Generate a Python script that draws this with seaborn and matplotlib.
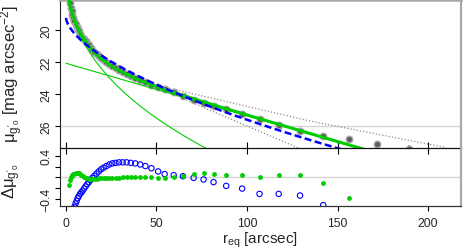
import numpy as np
import pandas as pd
import matplotlib
matplotlib.use('Agg')
import matplotlib.pyplot as plt
import seaborn as sns

# Surface brightness profile
r_prof = [1.6, 2.1, 2.6, 3.1, 3.6, 4.1, 4.7, 5.3, 5.9, 6.5, 7.1, 7.8, 8.5, 9.2, 10.0,
          10.8, 11.7, 12.6, 13.6, 14.6, 15.7, 16.9, 18.1, 19.4, 20.8, 22.3, 23.9, 25.6,
          27.4, 29.3, 31.3, 33.5, 35.8, 38.3, 41.0, 43.9, 47.2, 50.9, 54.5, 59.5, 64.6,
          70.5, 76.0, 81.5, 88.5, 97.3, 106.9, 117.5, 129.3, 142.1, 156.5, 172.0, 189.5]
mu_prof = [17.94, 18.31, 18.60, 18.84, 19.05, 19.24, 19.44, 19.63, 19.80, 19.95, 20.08,
           20.23, 20.35, 20.47, 20.59, 20.71, 20.84, 20.96, 21.10, 21.22, 21.36, 21.50,
           21.64, 21.76, 21.89, 22.03, 22.15, 22.27, 22.40, 22.52, 22.65, 22.77, 22.89,
           23.02, 23.14, 23.28, 23.42, 23.55, 23.69, 23.89, 24.11, 24.36, 24.57, 24.75,
           24.96, 25.27, 25.54, 25.94, 26.34, 26.60, 26.80, 27.10, 27.43]
mu_err = [0.08] * 30 + [0.05] * 15 + [0.03, 0.03, 0.04, 0.04, 0.06, 0.10, 0.15, 0.25]

# residuals: two-component fit (green) and single Sersic fit (blue)
res_two = [-0.14, -0.05, 0.0, 0.03, 0.05, 0.06, 0.07, 0.08, 0.09, 0.09, 0.08, 0.07, 0.05,
           0.03, 0.01, -0.01, -0.02, -0.03, -0.04, -0.04, -0.03, -0.03, -0.02, -0.02,
           -0.02, -0.01, -0.01, -0.01, -0.01, -0.01, 0.0, 0.0, 0.0, 0.01, 0.0, 0.01, 0.01,
           -0.01, -0.02, 0.0, 0.03, 0.07, 0.08, 0.07, 0.04, 0.05, 0.0, 0.04, 0.05, -0.11,
           -0.39, -0.60, -0.90]
res_one = [-1.30, -1.15, -1.00, -0.90, -0.78, -0.66, -0.55, -0.49, -0.44, -0.39, -0.35,
           -0.31, -0.28, -0.25, -0.21, -0.17, -0.13, -0.09, -0.05, -0.01, 0.03, 0.07, 0.11,
           0.15, 0.18, 0.21, 0.24, 0.26, 0.27, 0.28, 0.28, 0.28, 0.27, 0.26, 0.24, 0.21,
           0.17, 0.11, 0.06, 0.04, 0.02, -0.01, -0.04, -0.09, -0.16, -0.21, -0.31, -0.31,
           -0.34, -0.52, -0.90, -1.20, -1.60]

# dotted envelope lines
r_up = [45, 134, 210]
mu_up = [23.32, 25.67, 27.35]
r_lo = [45, 90, 128]
mu_lo = [23.32, 25.52, 27.35]

# fitted model parameters
bulge_mu0, bulge_b, bulge_n = 15.61, 2.07, 2.5
disk_mu0, disk_k = 22.08, 0.0328
single_mu0, single_b, single_n = 19.22, 0.392, 1.65
sky_level = 26

green = '#00CD00'
blue = '#0000FF'

sns.set_theme(style='white')
plt.rcParams['font.family'] = ['Liberation Sans', 'DejaVu Sans']
plt.rcParams['mathtext.fontset'] = 'custom'
plt.rcParams['mathtext.rm'] = 'Liberation Sans'
plt.rcParams['mathtext.it'] = 'Liberation Sans'
plt.rcParams['mathtext.default'] = 'regular'

rg = np.linspace(0.01, 225, 800)
mu_b = bulge_mu0 + bulge_b * rg ** (1 / bulge_n)
mu_d = disk_mu0 + disk_k * rg
mu_tot = -2.5 * np.log10(10 ** (-0.4 * mu_b) + 10 ** (-0.4 * mu_d))
mu_one = single_mu0 + single_b * rg ** (1 / single_n)
models = pd.DataFrame({'r': rg, 'bulge': mu_b, 'disk': mu_d, 'total': mu_tot, 'single': mu_one})
prof = pd.DataFrame({'r': r_prof, 'mu': mu_prof, 'err': mu_err, 'res2': res_two, 'res1': res_one})

fig = plt.figure(figsize=(4.63, 2.53), dpi=100)
ax1 = fig.add_axes([60/463, 1-149/253, 401/463, 148/253])
ax2 = fig.add_axes([60/463, 1-207/253, 401/463, 58/253])

# top panel
ax1.axhline(sky_level, color='#d4d4d4', lw=1.0, zorder=1)
ax1.plot(r_up, mu_up, color='#8c8c8c', lw=0.9, ls=(0, (1, 1.6)), zorder=2)
ax1.plot(r_lo, mu_lo, color='#8c8c8c', lw=0.9, ls=(0, (1, 1.6)), zorder=2)
ax1.errorbar(prof['r'], prof['mu'], yerr=prof['err'], fmt='none', ecolor='#9a9a9a',
             elinewidth=1.4, zorder=3)
sns.scatterplot(data=prof, x='r', y='mu', ax=ax1, color='#5c5c5c', s=22,
                edgecolor='#a8a8a8', linewidth=1.0, zorder=4)
sns.lineplot(data=models, x='r', y='bulge', ax=ax1, color=green, lw=0.8, zorder=5)
sns.lineplot(data=models, x='r', y='disk', ax=ax1, color=green, lw=0.8, zorder=5)
sns.lineplot(data=models, x='r', y='total', ax=ax1, color=green, lw=2.2, zorder=6)
sns.lineplot(data=models, x='r', y='single', ax=ax1, color=blue, lw=1.8, zorder=7,
             dashes=False, linestyle=(0, (2.8, 1.4)))

ax1.set_xlim(-3.3, 218.2)
ax1.set_ylim(27.375, 18.125)
ax1.set_yticks([20, 22, 24, 26])
ax1.set_xticks([0, 50, 100, 150, 200])
ax1.set_xticklabels([])
ax1.set_xlabel('')
ax1.set_ylabel('')
ax1.tick_params(axis='x', direction='inout', length=8.5, width=0.8, color='black', bottom=True)
ax1.tick_params(axis='y', direction='out', length=3.6, width=0.8, color='black', left=True,
                labelsize=8.8, labelrotation=90, pad=2)
for t in ax1.get_yticklabels():
    t.set_va('center')

# bottom panel
ax2.axhline(0, color='#d4d4d4', lw=1.0, zorder=1)
sns.scatterplot(data=prof, x='r', y='res1', ax=ax2, facecolor='none', edgecolor=blue,
                s=15, linewidth=0.8, zorder=3)
sns.scatterplot(data=prof, x='r', y='res2', ax=ax2, color=green, s=12, linewidth=0,
                zorder=4)
ax2.set_xlim(-3.3, 218.2)
ax2.set_ylim(-0.536, 0.548)
ax2.set_yticks([-0.4, -0.2, 0, 0.2, 0.4])
ax2.set_yticklabels(['\u22120.4', '', '', '', '0.4'])
ax2.set_xticks([0, 50, 100, 150, 200])
ax2.set_ylabel('')
ax2.set_xlabel(r'$r_{eq}$ [arcsec]', fontsize=11, labelpad=0.5)
ax2.tick_params(axis='x', direction='out', length=3.6, width=0.8, color='black', bottom=True,
                labelsize=8.8, pad=4)
ax2.tick_params(axis='y', direction='out', length=3.6, width=0.8, color='black', left=True,
                labelsize=8.8, labelrotation=90, pad=2)
for t in ax2.get_yticklabels():
    t.set_va('center')

for ax in (ax1, ax2):
    ax.patch.set_alpha(0)
    ax.spines['left'].set_color('#222222')
    ax.spines['left'].set_linewidth(0.8)
    ax.spines['right'].set_color('#a8a8a8')
    ax.spines['right'].set_linewidth(1.6)
ax1.spines['top'].set_color('#a8a8a8')
ax1.spines['top'].set_linewidth(1.8)
ax1.spines['bottom'].set_color('#111111')
ax1.spines['bottom'].set_linewidth(0.9)
ax1.spines['bottom'].set_zorder(10)
ax2.spines['top'].set_visible(False)
ax2.spines['bottom'].set_color('#333333')
ax2.spines['bottom'].set_linewidth(0.9)

fig.text(12/463, 1-74/253, r"$μ_{g'_{0}}$ [mag arcsec$^{-2}$]", rotation=90,
         ha='center', va='center', fontsize=12)
fig.text(12/463, 1-181/253, r"$Δμ_{g'_{0}}$", rotation=90, ha='center', va='center',
         fontsize=12)

fig.savefig('out.png', dpi=100)
